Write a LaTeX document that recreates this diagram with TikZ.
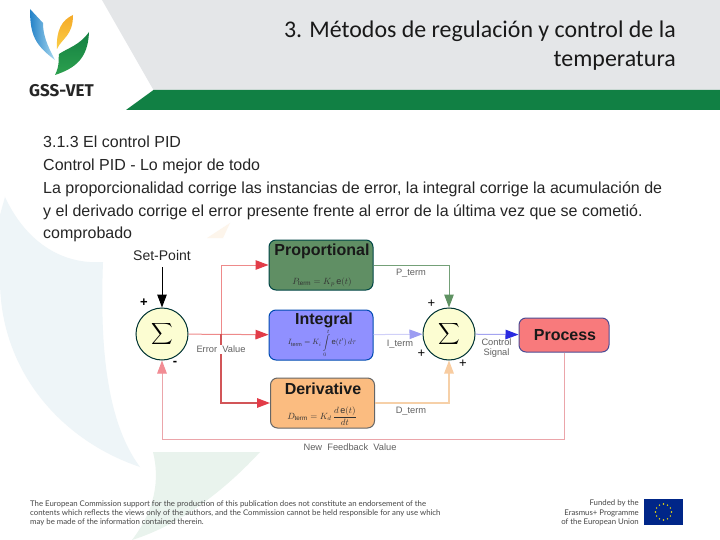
\documentclass[tikz,border=0pt]{standalone}
\usepackage{fontspec}
\setmainfont{Liberation Sans}
\newfontfamily\titlefont{Carlito}
\newfontfamily\logofont{Fira Sans}
\newfontfamily\footfont{Lato}
\usetikzlibrary{arrows.meta}
\definecolor{hdrgrey}{HTML}{E4E6E8}
\definecolor{hdrgreen}{HTML}{118044}
\definecolor{wmblue}{HTML}{EEF5F8}
\definecolor{wmgreen}{HTML}{E9F3ED}
\definecolor{wmorange}{HTML}{FDF5EB}
\definecolor{sumfill}{HTML}{FCFDD2}
\definecolor{tipred}{HTML}{E23C48}
\definecolor{wirered}{HTML}{EE8A8A}
\definecolor{wirereddark}{HTML}{D25558}
\definecolor{wirefb}{HTML}{EBA5AA}
\definecolor{tipfb}{HTML}{F28C94}
\definecolor{wiregreen}{HTML}{74A078}
\definecolor{tipgreen}{HTML}{5F9262}
\definecolor{wireviolet}{HTML}{D0D0F8}
\definecolor{tipviolet}{HTML}{9C9CF2}
\definecolor{wireorange}{HTML}{F6D0A8}
\definecolor{tiporange}{HTML}{F8CCA0}
\definecolor{wireblue}{HTML}{A4A4F0}
\definecolor{tipblue}{HTML}{2A2AE0}
\tikzset{
  x=1pt,y=-1pt,
  bodyline/.style={anchor=base west,inner sep=0pt,font=\fontsize{16}{18}\selectfont,text=black!85},
  titleline/.style={anchor=base east,inner sep=0pt,font=\titlefont\fontsize{23.9}{27}\selectfont,text=black!90},
  footline/.style={anchor=base west,inner sep=0pt,font=\footfont\fontsize{7.8}{9}\selectfont,text=black!72},
  fundline/.style={anchor=base east,inner sep=0pt,font=\footfont\fontsize{7.8}{9}\selectfont,text=black!72},
  blockbox/.style={draw=#1,line width=1pt,rounded corners=7pt,minimum width=104pt,minimum height=50pt,inner sep=0pt},
  blocktitle/.style={inner sep=0pt,font=\bfseries\fontsize{16}{18}\selectfont,text=black!90},
  formula/.style={inner sep=0pt,scale=0.9,text=black!80},
  sumnode/.style={circle,draw=black!60!teal,line width=1pt,fill=sumfill,minimum size=52pt,inner sep=0pt},
  signlabel/.style={inner sep=0pt,font=\bfseries\fontsize{13}{14}\selectfont},
  wirelabel/.style={inner sep=1pt,font=\fontsize{9.3}{10}\selectfont,text=black!62,align=center},
  pointlabel/.style={inner sep=0pt,font=\fontsize{14}{16}\selectfont,text=black!85},
  wire/.style={line width=#1},
  tip/.style={-{Triangle[length=13pt,width=9.5pt,color=#1]}}
}
\begin{document}
\begin{tikzpicture}
\useasboundingbox (0,0) rectangle (720,540);
\fill[white] (0,0) rectangle (720,540);
% watermark leaves
\fill[wmblue] (5,197) .. controls (25,240) and (60,265) .. (103,262)
  .. controls (100,340) and (105,420) .. (140,467)
  .. controls (60,440) and (0,370) .. (0,280) -- (0,215) -- cycle;
\fill[wmgreen] (153,452) -- (260,452) .. controls (225,490) and (180,525) .. (132,540)
  .. controls (155,510) and (160,480) .. (153,452) -- cycle;
\fill[wmorange] (207,238) -- (230,223) -- (223,238) -- cycle;
% header
\fill[hdrgrey] (102,0) -- (720,0) -- (720,90) -- (153.5,90) -- cycle;
\fill[hdrgreen] (153.5,90) -- (720,90) -- (720,110) -- (126,110) -- cycle;
% logo
\shade[left color={rgb,255:red,36;green,130;blue,200},right color={rgb,255:red,170;green,218;blue,240}] (30,9) .. controls (30,35) and (35,45) .. (55,60)
  .. controls (47,45) and (43,35) .. (43,23) -- cycle;
\shade[top color={rgb,255:red,245;green,170;blue,40},bottom color={rgb,255:red,250;green,205;blue,70}] (73,15) .. controls (62,20) and (56,30) .. (57,49)
  .. controls (62,38) and (73,36) .. (73,15) -- cycle;
\shade[top color={rgb,255:red,20;green,128;blue,66},bottom color={rgb,255:red,44;green,160;blue,78}] (89,32) .. controls (80,45) and (68,48) .. (59,54)
  .. controls (58,60) and (60,65) .. (55,75) .. controls (76,68) and (88,58) .. (89,32) -- cycle;
\node[anchor=base west,inner sep=0pt,font=\logofont\bfseries\fontsize{17}{20}\selectfont,text=black!85] (logotext) at (29,97) {GSS-VET};
% title
\node[titleline] (t1) at (676,37.5) {3. Métodos de regulación y control de la};
\node[titleline] (t2) at (676,67) {temperatura};
% body
\node[bodyline] (b1) at (43,148) {3.1.3 El control PID};
\node[bodyline] (b2) at (43,170.5) {Control PID - Lo mejor de todo};
\node[bodyline] (b3) at (43,193.5) {La proporcionalidad corrige las instancias de error, la integral corrige la acumulación de};
\node[bodyline] (b4) at (43,216.5) {y el derivado corrige el error presente frente al error de la última vez que se cometió.};
\node[bodyline] (b5) at (43,239) {comprobado};
% blocks
\node[blockbox={black!45!teal},fill={rgb,255:red,96;green,143;blue,100}] (prop) at (321,265) {};
\node[blockbox={blue!40!teal},fill={rgb,255:red,144;green,144;blue,255}] (integ) at (321,335) {};
\node[blockbox={black!60},fill={rgb,255:red,251;green,188;blue,128}] (deriv) at (322.5,403) {};
\node[blockbox={black!60!blue!70},fill={rgb,255:red,248;green,122;blue,124},minimum width=90pt,minimum height=34pt] (proc) at (564,335) {};
\node[sumnode] (s1) at (162,334) {};
\node[sumnode] (s2) at (449,334) {};
\node[inner sep=0pt,scale=1.5] (sg1) at (162,334) {$\displaystyle\sum$};
\node[inner sep=0pt,scale=1.5] (sg2) at (449,334) {$\displaystyle\sum$};
% block text
\node[blocktitle] (tp) at (322,251) {Proportional};
\node[blocktitle] (ti) at (324,320) {Integral};
\node[blocktitle] (td) at (323,389) {Derivative};
\node[blocktitle] (tproc) at (565,335) {Process};
\node[formula] (fp) at (322,282) {$P_{\mathrm{term}}=K_p\,\mathrm{e}(t)$};
\node[formula,scale=0.85] (fi) at (322,343) {$\displaystyle I_{\mathrm{term}}=K_i\int\limits_0^t \mathrm{e}(t')\,d\tau$};
\node[formula] (fd) at (322,416) {$\displaystyle D_{\mathrm{term}}=K_d\,\frac{d\,\mathrm{e}(t)}{dt}$};
% connectors
\coordinate (branch) at (221,334);
\coordinate (setp) at (162,267);
\coordinate (fbcorner) at (162,439);
\draw[wire=1pt,draw=wirered,tip={tipred}] (s1) -- (integ);
\draw[wire=1pt,draw=wirered,tip={tipred}] (branch) |- (prop);
\draw[wire=1.4pt,draw=wirereddark,tip={tipred}] (branch) |- (deriv);
\draw[wire=1pt,draw=wirefb,tip={tipfb}] (proc.south) |- (fbcorner) -- (s1);
\draw[wire=1pt,draw=black,tip={black}] (setp) -- (s1);
\draw[wire=1pt,draw=wiregreen,tip={tipgreen}] (prop) -| (s2);
\draw[wire=1pt,draw=wireviolet,tip={tipviolet}] (integ) -- (s2);
\draw[wire=1.2pt,draw=wireorange,tip={tiporange}] (deriv) -| (s2);
\draw[wire=1pt,draw=wireblue,tip={tipblue}] (s2) -- (proc);
% labels
\node[pointlabel] (lsp) at (162,255) {Set-Point};
\node[signlabel] (lp1) at (144,303) {+};
\node[signlabel] (lm1) at (175,363) {-};
\node[signlabel,font=\fontsize{13}{14}\selectfont] (lp2) at (431.5,304) {+};
\node[signlabel,font=\fontsize{13}{14}\selectfont] (lp3) at (421.5,354) {+};
\node[signlabel,font=\fontsize{13}{14}\selectfont] (lp4) at (463,364) {+};
\node[wirelabel,fill=white] (lerr) at (221,349.5) {Error\ \ Value};
\node[wirelabel] (lpt) at (411,273.5) {P\_term};
\node[wirelabel] (lit) at (400,344) {I\_term};
\node[wirelabel] (ldt) at (411,411.5) {D\_term};
\node[wirelabel,inner sep=0pt] (lcs) at (496.5,348) {Control\\Signal};
\node[wirelabel] (lfb) at (350,447) {New\ \ Feedback\ \ Value};
% footer
\node[footline] (f1) at (30,506) {The European Commission support for the production of this publication does not constitute an endorsement of the};
\node[footline] (f2) at (30,515) {contents which reflects the views only of the authors, and the Commission cannot be held responsible for any use which};
\node[footline] (f3) at (30,524) {may be made of the information contained therein.};
\node[fundline] (g1) at (639,505) {Funded by the};
\node[fundline] (g2) at (639,515) {Erasmus+ Programme};
\node[fundline] (g3) at (639,524.5) {of the European Union};
\fill[blue!45!black!85!cyan] (644,499) rectangle (683,525);
\foreach \a in {0,30,...,330} \fill[yellow!90!orange] (663.5,512) ++(\a:8) circle (0.8);
\end{tikzpicture}
\end{document}
